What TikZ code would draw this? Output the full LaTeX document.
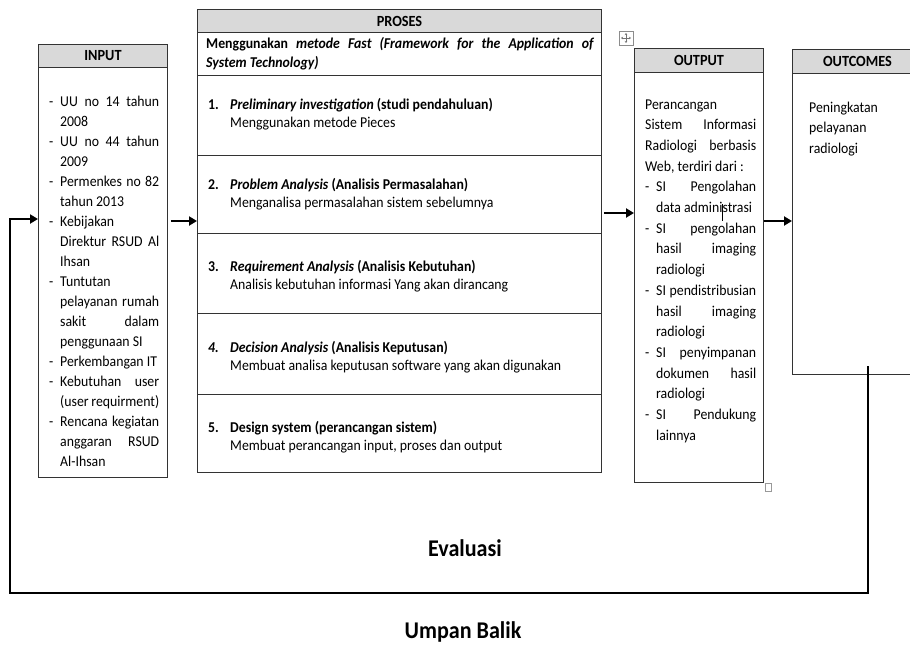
\documentclass[tikz,border=0pt]{standalone}
\usepackage{fontspec}
\setmainfont{Carlito}[FakeStretch=0.92]
\usetikzlibrary{arrows.meta}
\newcommand{\JL}[2]{\makebox[#1][s]{#2}}
\newcommand{\DL}[2]{\makebox[11pt][l]{-}\makebox[#1][s]{#2}}
\newcommand{\DN}[1]{\makebox[11pt][l]{-}#1}
\newcommand{\CL}[1]{\hspace*{11pt}#1}
\newcommand{\CJ}[2]{\hspace*{11pt}\makebox[#1][s]{#2}}
\newcommand{\NUM}[1]{\makebox[22pt][l]{\bfseries #1}}
\newcommand{\bodyfont}{\fontsize{15}{20}\selectfont}
\tikzset{
  boxnode/.style={draw=black!80, line width=0.8pt, inner sep=0pt, anchor=north west},
  hdrnode/.style={draw=black!80, line width=1pt, fill=black!15, inner sep=0pt, anchor=north west,
    font=\bfseries\fontsize{15.5}{17}\selectfont},
  txt/.style={inner sep=0pt, anchor=base west},
  flow/.style={line width=2.6pt, -{Triangle[length=8pt,width=9pt]}},
  big/.style={font=\bfseries\fontsize{24}{28}\selectfont, inner sep=0pt}
}
\begin{document}
\begin{tikzpicture}[x=1pt,y=-1pt]
\useasboundingbox (0,0) rectangle (910,648);
\clip (0,0) rectangle (910,648);

% ---------- INPUT ----------
\node[boxnode, minimum width=129pt, minimum height=433pt] (input) at (38,44) {};
\node[hdrnode, minimum width=129pt, minimum height=23pt] (inputh) at (38,44) {INPUT};
\node[txt] (inputt) at (49,106.5) {\parbox[t]{110pt}{\bodyfont
\DL{99pt}{UU no 14 tahun}\\
\CL{2008}\\
\DL{99pt}{UU no 44 tahun}\\
\CL{2009}\\
\DL{99pt}{Permenkes no 82}\\
\CL{tahun 2013}\\
\DN{Kebijakan}\\
\CJ{99pt}{Direktur RSUD Al}\\
\CL{Ihsan}\\
\DN{Tuntutan}\\
\CJ{99pt}{pelayanan rumah}\\
\CJ{99pt}{sakit dalam}\\
\CL{penggunaan SI}\\
\DN{Perkembangan IT}\\
\DL{99pt}{Kebutuhan user}\\
\CJ{99pt}{(user requirment)}\\
\DL{99pt}{Rencana kegiatan}\\
\CJ{99pt}{anggaran RSUD}\\
\CL{Al-Ihsan}}};

% ---------- PROSES ----------
\node[boxnode, minimum width=404pt, minimum height=43pt] (intro) at (197,32) {};
\node[boxnode, minimum width=404pt, minimum height=80pt] (r1) at (197,75) {};
\node[boxnode, minimum width=404pt, minimum height=78pt] (r2) at (197,155) {};
\node[boxnode, minimum width=404pt, minimum height=80pt] (r3) at (197,233) {};
\node[boxnode, minimum width=404pt, minimum height=81pt] (r4) at (197,313) {};
\node[boxnode, minimum width=404pt, minimum height=78pt] (r5) at (197,394) {};
\node[hdrnode, minimum width=404pt, minimum height=23pt] (prosesh) at (197,9) {PROSES};

\node[txt] (introt) at (206,48) {\parbox[t]{390pt}{\fontsize{15}{19.5}\selectfont\bfseries
\JL{388pt}{Menggunakan \textit{metode Fast (Framework for the Application of}}\\
\textit{System Technology)}}};

\node[txt] (t1) at (208,109) {\parbox[t]{380pt}{\fontsize{15}{18}\selectfont
\NUM{1.}\textbf{\textit{Preliminary investigation}} \textbf{(studi pendahuluan)}\\
\hspace*{22pt}Menggunakan metode Pieces}};
\node[txt] (t2) at (208,189) {\parbox[t]{380pt}{\fontsize{15}{18}\selectfont
\NUM{2.}\textbf{\textit{Problem Analysis}} \textbf{(Analisis Permasalahan)}\\
\hspace*{22pt}Menganalisa permasalahan sistem sebelumnya}};
\node[txt] (t3) at (208,271.5) {\parbox[t]{380pt}{\fontsize{15}{18}\selectfont
\NUM{3.}\textbf{\textit{Requirement Analysis}} \textbf{(Analisis Kebutuhan)}\\
\hspace*{22pt}Analisis kebutuhan informasi Yang akan dirancang}};
\node[txt] (t4) at (208,352.5) {\parbox[t]{380pt}{\fontsize{15}{18}\selectfont
\NUM{\textit{4.}}\textbf{\textit{Decision Analysis}} \textbf{(Analisis Keputusan)}\\
\hspace*{22pt}Membuat analisa keputusan software yang akan digunakan}};
\node[txt] (t5) at (208,432.5) {\parbox[t]{380pt}{\fontsize{15}{18}\selectfont
\NUM{5.}\textbf{Design system (perancangan sistem)}\\
\hspace*{22pt}Membuat perancangan input, proses dan output}};

% ---------- OUTPUT ----------
\node[boxnode, minimum width=129pt, minimum height=434pt] (output) at (634,48) {};
\node[hdrnode, minimum width=129pt, minimum height=24pt] (outputh) at (634,48) {OUTPUT};
\node[txt] (outputt) at (645,109) {\parbox[t]{112pt}{\fontsize{15}{20.7}\selectfont
Perancangan\\
\JL{111pt}{Sistem Informasi}\\
\JL{111pt}{Radiologi berbasis}\\
Web, terdiri dari :\\
\DL{100pt}{SI Pengolahan}\\
\CL{data administrasi}\\
\DL{100pt}{SI pengolahan}\\
\CJ{100pt}{hasil imaging}\\
\CL{radiologi}\\
\DL{100pt}{SI pendistribusian}\\
\CJ{100pt}{hasil imaging}\\
\CL{radiologi}\\
\DL{100pt}{SI penyimpanan}\\
\CJ{100pt}{dokumen hasil}\\
\CL{radiologi}\\
\DL{100pt}{SI Pendukung}\\
\CL{lainnya}}};
\draw[line width=0.6pt] (722,204) -- (722,221);

% Word UI handles
\draw[black!45, line width=0.6pt, fill=white] (619,31) rectangle (633,45);
\draw[black!55, line width=0.5pt, {Stealth[length=2pt,width=2.5pt]}-{Stealth[length=2pt,width=2.5pt]}] (621,38) -- (631,38);
\draw[black!55, line width=0.5pt, {Stealth[length=2pt,width=2.5pt]}-{Stealth[length=2pt,width=2.5pt]}] (626,33) -- (626,43);
\draw[black!40, line width=0.6pt] (765,483) rectangle (771,491);

% ---------- OUTCOMES ----------
\node[boxnode, minimum width=130pt, minimum height=325pt] (outc) at (792,49) {};
\node[hdrnode, minimum width=130pt, minimum height=24pt] (outch) at (792,49) {OUTCOMES};
\node[txt] (outct) at (809,112) {\parbox[t]{90pt}{\fontsize{15}{20.5}\selectfont
Peningkatan\\pelayanan\\radiologi}};

% ---------- connectors ----------
\coordinate (ya) at (0,221);
\coordinate (yb) at (0,213);
\coordinate (yc) at (0,221);
\draw[flow, shorten <=3pt] (input.east |- ya) -- (r2.west |- ya);
\draw[flow, shorten <=2pt] (r2.east |- yb) -- (output.west |- yb);
\draw[flow] (output.east |- yc) -- (outc.west |- yc);

\coordinate (fb1) at (868,366);
\coordinate (fb2) at (868,593);
\coordinate (fb3) at (10,593);
\coordinate (fb4) at (10,219);
\draw[flow] (fb1) -- (fb2) -- (fb3) -- (fb4) -- (input.west |- fb4);

\node[big] (eval) at (465,548) {Evaluasi};
\node[big] (umpan) at (463,632) {Umpan Balik};
\end{tikzpicture}
\end{document}
